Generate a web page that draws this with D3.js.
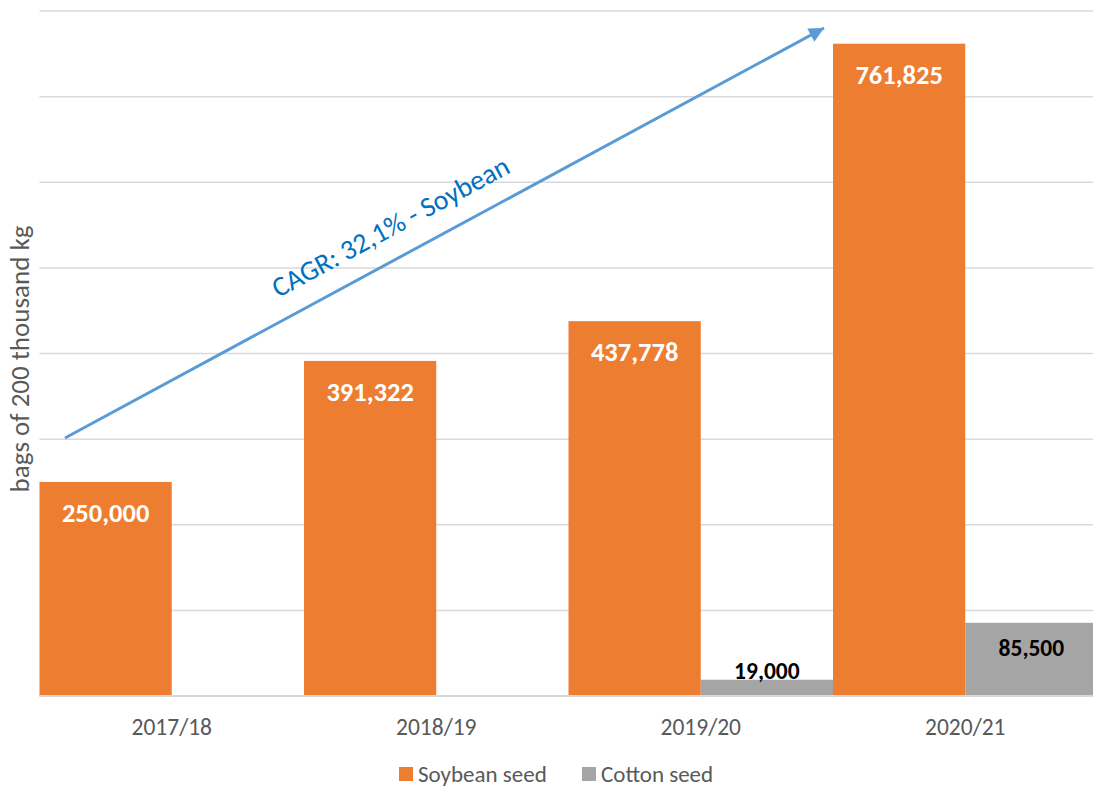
<!DOCTYPE html>
<html>
<head>
<meta charset="utf-8">
<script src="https://cdn.jsdelivr.net/npm/d3@7"></script>
<style>
  html, body { margin: 0; padding: 0; background: #fff; }
  svg { display: block; }
  text { font-family: Carlito, Lato, sans-serif; }
</style>
</head>
<body>
<svg id="chart" width="1093" height="787"></svg>
<script>
const categories = ["2017/18", "2018/19", "2019/20", "2020/21"];
const seriesNames = ["Soybean seed", "Cotton seed"];
const soybean = [250000, 391322, 437778, 761825];
const cotton = [null, null, 19000, 85500];
const yTicks = [0, 100000, 200000, 300000, 400000, 500000, 600000, 700000, 800000];
const yTitle = "bags of 200 thousand kg";
const cagrLabel = "CAGR: 32,1% - Soybean";
const colors = ["#ED7D31", "#A5A5A5"];

(function () {
const svg = d3.select("#chart");
const W = 1093, H = 787;
const mLeft = 39.5, mRight = 1097.5, mTop = 11, mBottom = 696;

const x = d3.scaleBand().domain(categories).range([mLeft, mRight]).paddingInner(0).paddingOuter(0);
const xs = d3.scaleBand().domain(seriesNames).range([0, x.bandwidth()]).padding(0);
const y = d3.scaleLinear().domain([0, 800000]).range([mBottom, mTop]);

// gridlines
svg.append("g").selectAll("line").data(yTicks).join("line")
  .attr("x1", mLeft).attr("x2", W)
  .attr("y1", d => y(d)).attr("y2", d => y(d))
  .attr("stroke", "#D9D9D9").attr("stroke-width", d => d === 0 ? 2 : 1.5);

const fmt = d3.format(",");

const rows = categories.map((c, i) => [
  { cat: c, s: seriesNames[0], v: soybean[i] },
  { cat: c, s: seriesNames[1], v: cotton[i] }
]).flat().filter(d => d.v != null);

// bars
svg.append("g").selectAll("rect").data(rows).join("rect")
  .attr("x", d => x(d.cat) + xs(d.s))
  .attr("width", xs.bandwidth())
  .attr("y", d => y(d.v))
  .attr("height", d => y(0) - y(d.v))
  .attr("fill", d => d.s === seriesNames[0] ? colors[0] : colors[1]);

// baseline over bars
svg.append("line").attr("x1", mLeft).attr("x2", W).attr("y1", y(0)).attr("y2", y(0))
  .attr("stroke", "#D9D9D9").attr("stroke-width", 2);

// data labels
svg.append("g").selectAll("text").data(rows).join("text")
  .attr("x", d => x(d.cat) + xs(d.s) + xs.bandwidth() / 2)
  .attr("y", d => {
    const t = y(d.v), h = y(0) - t;
    if (d.s === seriesNames[0]) return t + 31;
    return h < 40 ? t - 9 : t + 25;
  })
  .attr("dy", "0.35em")
  .attr("text-anchor", "middle")
  .attr("font-weight", "bold")
  .attr("font-size", d => d.s === seriesNames[0] ? 26.5 : 23.5)
  .attr("fill", d => d.s === seriesNames[0] ? "#FFFFFF" : "#000000")
  .text(d => fmt(d.v));

// x axis labels
const xAxis = d3.axisBottom(x).tickSize(0).tickPadding(0);
const gx = svg.append("g").attr("transform", `translate(0, ${mBottom})`).call(xAxis);
gx.select(".domain").remove();
gx.selectAll("text")
  .attr("y", 31).attr("dy", "0.35em")
  .attr("font-size", 23.5).attr("fill", "#595959")
  .style("font-family", "Carlito, Lato, sans-serif");

// y title
svg.append("text")
  .attr("transform", `translate(20, 359) rotate(-90)`)
  .attr("text-anchor", "middle").attr("dy", "0.35em")
  .attr("font-size", 27).attr("fill", "#595959")
  .text(yTitle);

// CAGR arrow
const defs = svg.append("defs");
defs.append("marker").attr("id", "ah")
  .attr("viewBox", "0 0 10 10").attr("refX", 10).attr("refY", 5)
  .attr("markerWidth", 6).attr("markerHeight", 5).attr("markerUnits", "strokeWidth")
  .attr("orient", "auto")
  .append("path").attr("d", "M0,0 L10,5 L0,10 z").attr("fill", "#5B9BD5");

const x0 = 65, y0 = 438, x1 = 824, y1 = 28;
svg.append("line")
  .attr("x1", x0).attr("y1", y0).attr("x2", x1).attr("y2", y1)
  .attr("stroke", "#5B9BD5").attr("stroke-width", 3)
  .attr("marker-end", "url(#ah)");

const ang = Math.atan2(y1 - y0, x1 - x0) * 180 / Math.PI;
svg.append("text")
  .attr("transform", `translate(395, 235) rotate(${ang})`)
  .attr("text-anchor", "middle")
  .attr("font-size", 28).attr("fill", "#0070C0")
  .text(cagrLabel);

// legend
const legendItems = [
  { name: seriesNames[0], color: colors[0], x: 399 },
  { name: seriesNames[1], color: colors[1], x: 582 }
];
const lg = svg.append("g").selectAll("g").data(legendItems).join("g")
  .attr("transform", d => `translate(${d.x}, 767)`);
lg.append("rect").attr("width", 14).attr("height", 14).attr("fill", d => d.color);
lg.append("text").attr("x", 19).attr("y", 7).attr("dy", "0.35em")
  .attr("font-size", 23).attr("fill", "#595959").text(d => d.name);
})();
</script>
</body>
</html>
